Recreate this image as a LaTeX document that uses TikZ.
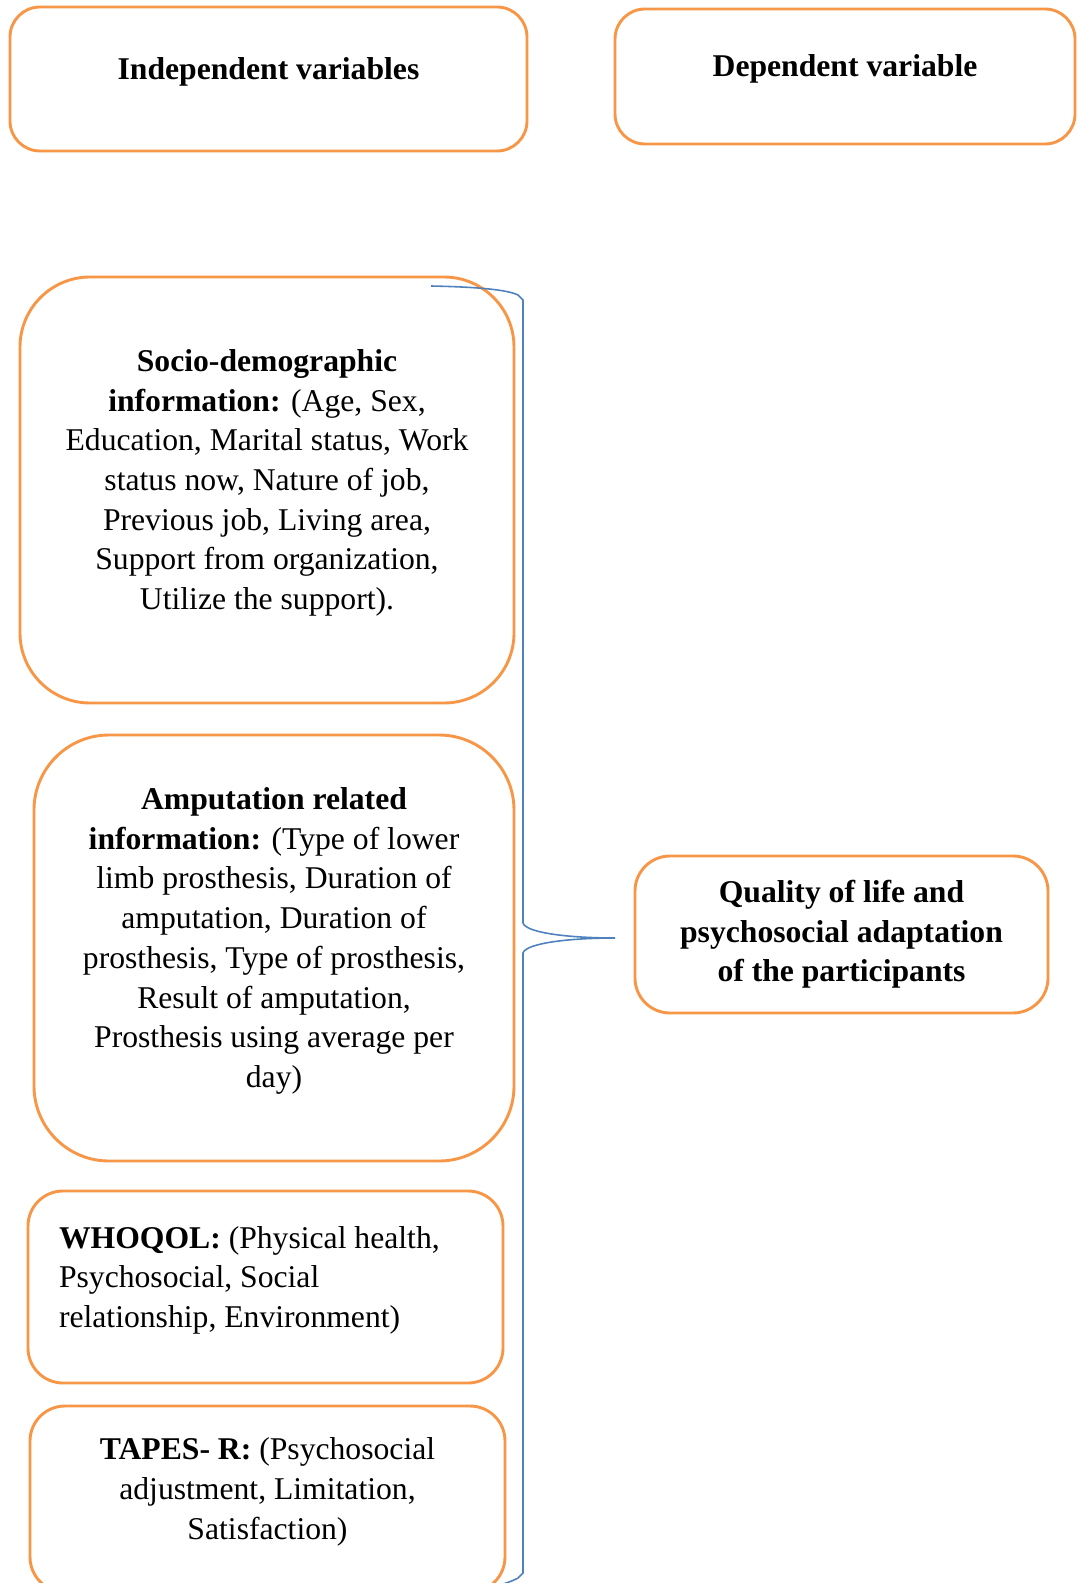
\documentclass[tikz,border=0pt]{standalone}
\usepackage{fontspec}
\setmainfont{Liberation Serif}
\definecolor{boxorange}{HTML}{F79646}
\definecolor{braceblue}{HTML}{4F81BD}
\newdimen\px
\px=0.379pt
\tikzset{
  varbox/.style={draw=boxorange, line width=1.1pt, rounded corners=#1, align=center,
    inner sep=0pt, font=\fontsize{12}{15.05}\selectfont},
  varbox/.default=35\px,
  lifted/.style={text depth=8pt},
  brace/.style={draw=braceblue, line width=0.6pt}
}
\begin{document}
\begin{tikzpicture}[x=0.379pt,y=-0.379pt]
  \useasboundingbox (0,0) rectangle (1077,1583);
  \clip (0,0) rectangle (1077,1583);
  \node[varbox=30\px, lifted, minimum width=517\px, minimum height=144\px] (indep) at (268.5,79) {\textbf{Independent variables}};
  \node[varbox=30\px, lifted, minimum width=460\px, minimum height=135\px] (dep) at (845,76.5) {\textbf{Dependent variable}};
  \node[varbox=70\px, lifted, minimum width=494\px, minimum height=426\px] (socio) at (267,490)
    {\textbf{Socio-demographic}\\ \textbf{information:} (Age, Sex,\\ Education, Marital status, Work\\
     status now, Nature of job,\\ Previous job, Living area,\\ Support from organization,\\ Utilize the support).};
  \node[varbox=75\px, lifted, minimum width=480\px, minimum height=426\px] (amput) at (274,948)
    {\textbf{Amputation related}\\ \textbf{information:} (Type of lower\\ limb prosthesis, Duration of\\
     amputation, Duration of\\ prosthesis, Type of prosthesis,\\ Result of amputation,\\ Prosthesis using average per\\ day)};
  \node[varbox, text depth=37.8pt, minimum width=475\px, minimum height=192\px, text width=413\px, align=flush left] (whoqol) at (265.5,1287)
    {\textbf{WHOQOL:} (Physical health,\\ Psychosocial, Social\\ relationship, Environment)};
  \node[varbox, lifted, minimum width=475\px, minimum height=186\px] (tapes) at (267.5,1499)
    {\textbf{TAPES- R:} (Psychosocial\\ adjustment, Limitation,\\ Satisfaction)};
  \node[varbox, minimum width=413\px, minimum height=157\px] (quality) at (841.5,934.5)
    {\textbf{Quality of life and}\\ \textbf{psychosocial adaptation}\\ \textbf{of the participants}};
  \coordinate (bracetop) at (431,286);
  \coordinate (tip) at (615,938);
  \coordinate (bracebot) at (503,1584);
  \draw[brace] (bracetop) .. controls (480,287) and (508,290) .. (518,295) -- (523,300) -- (523,923)
    .. controls (526,933) and (570,938) .. (tip)
    .. controls (570,938) and (526,943) .. (523,953) -- (523,1573) -- (518,1578)
    .. controls (512,1581) .. (bracebot);
\end{tikzpicture}
\end{document}
